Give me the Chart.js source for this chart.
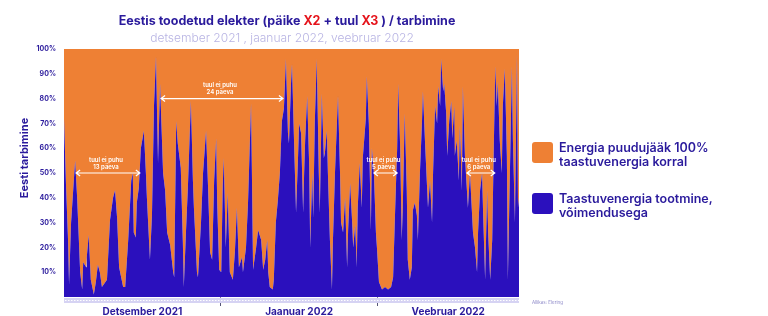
<!DOCTYPE html>
<html>
<head>
<meta charset="utf-8">
<script src="https://cdn.jsdelivr.net/npm/chart.js@4.4.1/dist/chart.umd.min.js"></script>
<style>
  html, body { margin: 0; padding: 0; background: #fff; }
  #wrap { width: 768px; height: 316px; }
</style>
</head>
<body>
<div id="wrap"><canvas id="energyChart" width="768" height="316"></canvas></div>
<script>
// päevad alates 1. detsembrist 2021 ja taastuvenergia osakaal tarbimisest (%)
const days = [
  0.0, 0.4, 0.8, 1.0, 1.4, 2.2, 2.6, 3.2, 3.6, 3.8, 4.4, 4.5, 4.9, 5.3, 5.9, 6.3, 6.7, 7.1, 7.5, 8.5,
  9.1, 9.7, 10.1, 10.5, 10.9, 11.7, 12.1, 12.7, 13.3, 13.6, 13.8, 14.2, 14.4, 14.8, 15.2, 15.8, 16.2, 16.4, 17.0, 17.4,
  17.8, 18.2, 18.4, 18.6, 19.0, 19.6, 20.0, 20.4, 21.0, 21.6, 21.8, 22.2, 22.5, 23.1, 23.5, 23.7, 24.1, 24.5, 25.1, 25.5,
  25.7, 26.3, 26.5, 27.1, 27.5, 28.1, 28.5, 28.9, 29.3, 29.7, 30.1, 30.3, 30.7, 31.1, 31.4, 31.6, 32.0, 32.4, 32.8, 33.4,
  33.8, 34.2, 34.6, 35.2, 35.4, 36.0, 36.4, 37.0, 37.2, 37.4, 38.0, 38.4, 39.0, 39.4, 39.8, 40.2, 40.4, 40.7, 41.3, 41.5,
  41.9, 42.3, 42.7, 43.1, 43.5, 43.9, 44.3, 44.5, 44.9, 45.1, 45.5, 45.9, 46.3, 46.5, 46.9, 47.3, 47.5, 47.7, 48.1, 48.5,
  48.7, 49.1, 49.3, 49.6, 50.0, 50.4, 50.6, 51.0, 51.4, 51.6, 52.0, 52.2, 52.6, 53.0, 53.2, 53.6, 54.0, 54.2, 54.6, 54.8,
  55.2, 55.6, 56.0, 56.2, 56.6, 57.0, 57.2, 57.6, 57.9, 58.1, 58.5, 58.9, 59.1, 59.7, 59.9, 60.3, 60.7, 60.9, 61.3, 61.7,
  61.9, 62.3, 62.9, 63.5, 64.1, 64.7, 65.1, 65.5, 65.9, 66.1, 66.5, 66.8, 67.0, 67.4, 67.8, 68.0, 68.4, 68.8, 69.0, 69.4,
  69.8, 70.0, 70.4, 70.8, 71.0, 71.4, 71.8, 72.0, 72.4, 72.8, 73.0, 73.4, 73.8, 74.0, 74.4, 74.6, 75.0, 75.2, 75.6, 75.8,
  76.2, 76.6, 76.8, 77.2, 77.3, 77.7, 78.1, 78.3, 78.7, 78.9, 79.3, 79.7, 79.9, 80.3, 80.7, 80.9, 81.3, 81.7, 81.9, 82.3,
  82.7, 82.9, 83.3, 83.7, 83.9, 84.3, 84.7, 84.9, 85.3, 85.6, 85.8, 86.2, 86.6, 86.8, 87.2, 87.6, 87.8, 88.2, 88.6, 88.8,
  89.2, 89.6, 89.8, 90.0
];
const share = [
  72, 45, 23, 5, 30, 55, 40, 10, 3, 14, 12, 16, 25, 7, 1, 6, 13, 10, 4, 7,
  31, 40, 43, 32, 12, 4, 4, 23, 47, 50, 26, 24, 38, 44, 60, 67, 50, 40, 15, 33,
  77, 97, 75, 54, 86, 50, 43, 26, 21, 10, 8, 71, 62, 52, 23, 4, 25, 44, 79, 47,
  36, 10, 8, 30, 50, 67, 44, 18, 15, 47, 64, 38, 11, 10, 45, 56, 20, 42, 10, 7,
  18, 36, 12, 16, 10, 20, 38, 78, 45, 11, 20, 27, 23, 11, 15, 23, 10, 4, 3, 7,
  30, 39, 50, 71, 76, 96, 66, 62, 86, 94, 63, 34, 57, 70, 66, 34, 50, 63, 81, 53,
  20, 50, 32, 70, 96, 50, 34, 82, 56, 58, 67, 50, 23, 3, 23, 50, 71, 81, 50, 30,
  26, 40, 12, 27, 46, 30, 20, 29, 12, 36, 54, 36, 56, 72, 89, 70, 27, 60, 50, 26,
  20, 6, 3, 4, 3, 4, 8, 35, 60, 86, 60, 23, 35, 74, 43, 15, 7, 12, 35, 38,
  33, 23, 50, 70, 83, 63, 45, 36, 47, 30, 50, 77, 70, 85, 77, 96, 83, 86, 74, 57,
  71, 79, 64, 77, 57, 63, 47, 69, 43, 85, 57, 43, 36, 50, 34, 26, 20, 10, 26, 43,
  50, 34, 7, 43, 26, 7, 23, 47, 93, 77, 87, 63, 50, 77, 92, 57, 7, 50, 93, 63,
  30, 98, 36, 40
];
const monthNames = ['Detsember 2021', 'Jaanuar 2022', 'Veebruar 2022'];
const monthStarts = [0, 31, 62, 90];
const yTicks = [10, 20, 30, 40, 50, 60, 70, 80, 90, 100];
const legendLabels = [
  ['Energia puudujääk 100%', 'taastuvenergia korral'],
  ['Taastuvenergia tootmine,', 'võimendusega']
];
// perioodid, mil tuul ei puhunud
const calmFrom = [2.4, 19.2, 61.3, 79.7];
const calmTo = [15.0, 43.3, 65.9, 85.2];
const calmLevel = [50, 80, 50, 50];
const calmDays = ['13 päeva', '24 päeva', '5 päeva', '6 päeva'];

const BLUE = '#2b10bd';
const ORANGE = '#ee8034';
const INK = '#2a1a9c';
const FONT = 'Inter, "Open Sans", sans-serif';

const titleParts = [
  ['Eestis toodetud elekter (päike ', INK],
  ['X2', '#e5131b'],
  [' + tuul ', INK],
  ['X3', '#e5131b'],
  [' ) / tarbimine', INK]
];

const decorPlugin = {
  id: 'decor',
  afterDraw(chart) {
    const c = chart.ctx;
    const area = chart.chartArea;
    const xs = chart.scales.x;
    const ys = chart.scales.y;
    c.save();

    // pealkiri mitmevärvilisena
    c.font = '700 12.5px ' + FONT;
    c.textBaseline = 'middle';
    c.textAlign = 'left';
    let total = 0;
    titleParts.forEach(p => { total += c.measureText(p[0]).width; });
    let tx = 287 - total / 2;
    titleParts.forEach(p => {
      c.fillStyle = p[1];
      c.fillText(p[0], tx, 21);
      tx += c.measureText(p[0]).width;
    });
    c.font = '300 12px ' + FONT;
    c.fillStyle = '#b8b4e3';
    c.textAlign = 'center';
    c.fillText('detsember 2021 , jaanuar 2022, veebruar 2022', 282, 38);

    // y-telje pealkiri
    c.save();
    c.translate(25, 158);
    c.rotate(-Math.PI / 2);
    c.font = '700 11px ' + FONT;
    c.fillStyle = INK;
    c.fillText('Eesti tarbimine', 0, 0);
    c.restore();

    // x-telje riba
    c.fillStyle = '#d6d3f3';
    c.fillRect(area.left, area.bottom + 1, area.right - area.left, 5);
    c.fillStyle = '#ffffff';
    for (let x = area.left + 1; x < area.right; x += 3) {
      c.fillRect(x, area.bottom + 3, 1.5, 1);
    }

    // tuulevaiksed perioodid
    c.strokeStyle = '#ffffff';
    c.fillStyle = '#ffffff';
    c.lineWidth = 1.2;
    calmFrom.forEach((from, i) => {
      const x1 = xs.getPixelForValue(from);
      const x2 = xs.getPixelForValue(calmTo[i]);
      const y = ys.getPixelForValue(calmLevel[i]);
      c.beginPath();
      c.moveTo(x1, y); c.lineTo(x2, y);
      c.moveTo(x1 + 4, y - 3); c.lineTo(x1, y); c.lineTo(x1 + 4, y + 3);
      c.moveTo(x2 - 4, y - 3); c.lineTo(x2, y); c.lineTo(x2 - 4, y + 3);
      c.stroke();
      c.font = '600 6px ' + FONT;
      c.textAlign = 'center';
      const cx = (x1 + x2) / 2 - 2;
      c.fillText('tuul ei puhu', cx, y - 13);
      c.fillText(calmDays[i], cx, y - 6);
    });

    // legend
    const legendTop = [142, 193];
    chart.data.datasets.slice().reverse().forEach((ds, i) => {
      const top = legendTop[i];
      c.fillStyle = ds.backgroundColor;
      c.beginPath();
      c.roundRect(532, top, 21, 21, 3);
      c.fill();
      c.fillStyle = INK;
      c.font = '600 12.5px ' + FONT;
      c.textAlign = 'left';
      ds.label.forEach((line, j) => c.fillText(line, 559, top + 6 + j * 14.5));
    });

    c.font = '4.5px ' + FONT;
    c.fillStyle = '#8c88c8';
    c.fillText('Allikas: Elering', 532, 303);
    c.restore();
  }
};

const ctx = document.getElementById('energyChart').getContext('2d');
new Chart(ctx, {
  type: 'line',
  data: {
    datasets: [{
      label: legendLabels[1],
      data: days.map((d, i) => ({ x: d, y: share[i] })),
      backgroundColor: BLUE,
      borderWidth: 0,
      pointRadius: 0,
      fill: 'origin'
    }, {
      label: legendLabels[0],
      data: days.map(d => ({ x: d, y: 100 })),
      backgroundColor: ORANGE,
      borderWidth: 0,
      pointRadius: 0,
      fill: '-1'
    }]
  },
  options: {
    responsive: false,
    animation: false,
    devicePixelRatio: 1,
    layout: { padding: { top: 49, right: 249, left: 0, bottom: 0 } },
    plugins: { legend: { display: false }, tooltip: { enabled: false } },
    scales: {
      x: {
        type: 'linear',
        min: 0,
        max: 90,
        afterBuildTicks: scale => {
          const t = [];
          monthNames.forEach((m, i) => {
            t.push({ value: (monthStarts[i] + monthStarts[i + 1]) / 2 });
            if (i < monthNames.length - 1) t.push({ value: monthStarts[i + 1] });
          });
          scale.ticks = t;
        },
        afterFit: scale => { scale.height = 19; },
        ticks: {
          autoSkip: false,
          maxRotation: 0,
          padding: 0,
          color: INK,
          font: { family: FONT, size: 10, weight: '700' },
          callback: v => {
            const i = monthNames.findIndex((m, k) => (monthStarts[k] + monthStarts[k + 1]) / 2 === v);
            return i >= 0 ? monthNames[i] : '';
          }
        },
        grid: {
          drawOnChartArea: false,
          tickLength: 9,
          tickWidth: 1,
          color: c => (c.tick && monthStarts.includes(c.tick.value)) ? '#555577' : 'rgba(0,0,0,0)'
        },
        border: { display: false }
      },
      y: {
        min: 0,
        max: 100,
        z: 1,
        afterBuildTicks: scale => { scale.ticks = [0].concat(yTicks).map(v => ({ value: v })); },
        afterFit: scale => { scale.width = 64; },
        ticks: {
          padding: 8,
          color: INK,
          font: { family: FONT, size: 7, weight: '700' },
          callback: v => yTicks.includes(v) ? v + '%' : ''
        },
        grid: {
          drawTicks: false,
          color: 'rgba(255,255,255,0.28)',
          lineWidth: 1
        },
        border: { display: false }
      }
    }
  },
  plugins: [decorPlugin]
});
</script>
</body>
</html>
